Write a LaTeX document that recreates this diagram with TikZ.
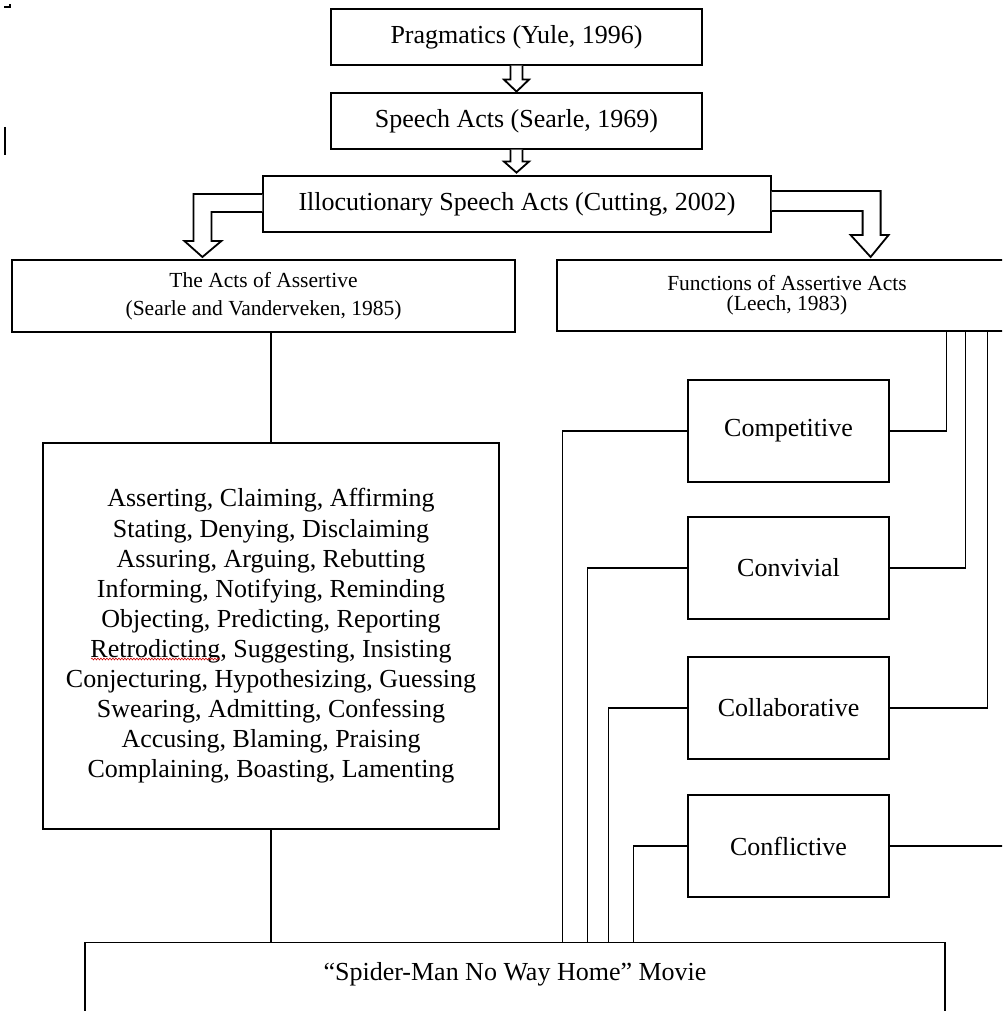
\documentclass[tikz,border=0pt]{standalone}
\usepackage{fontspec}
\setmainfont{Liberation Serif}
\usetikzlibrary{calc,decorations.pathmorphing}
\begin{document}
\begin{tikzpicture}[x=1pt,y=-1pt,
  box/.style={draw=black, line width=1.2pt, rectangle, inner sep=0pt, align=center,
              font=\fontsize{26}{30.1}\selectfont},
  smallbox/.style={box, font=\fontsize{21.5}{28}\selectfont},
  conn/.style={draw=black, line width=1.5pt},
  hollow/.style={draw=black, line width=1.8pt, fill=white, line join=miter}
]
\useasboundingbox (0,0) rectangle (1002,1011);
\clip (0,0) rectangle (1002,1011);
\fill[white] (0,0) rectangle (1002,1011);

% top boxes
\node[box, minimum width=371pt, minimum height=56pt] (prag) at (516.5,37) {Pragmatics (Yule, 1996)};
\node[box, minimum width=371pt, minimum height=56pt] (speech) at (516.5,121) {Speech Acts (Searle, 1969)};
\node[box, minimum width=508pt, minimum height=56pt] (ill) at (517,204) {Illocutionary Speech Acts (Cutting, 2002)};

% second level
\node[smallbox, minimum width=503pt, minimum height=72pt] (acts) at (263.5,296) {The Acts of Assertive\\(Searle and Vanderveken, 1985)};
\node[box, minimum width=460pt, minimum height=71pt, font=\fontsize{21.5}{20}\selectfont] (func) at (787,295.5) {Functions of Assertive Acts\\(Leech, 1983)};

% list box
\node[box, minimum width=456pt, minimum height=386pt] (list) at (271,636) {Asserting, Claiming, Affirming\\Stating, Denying, Disclaiming\\Assuring, Arguing, Rebutting\\Informing, Notifying, Reminding\\Objecting, Predicting, Reporting\\Retrodicting, Suggesting, Insisting\\Conjecturing, Hypothesizing, Guessing\\Swearing, Admitting, Confessing\\Accusing, Blaming, Praising\\Complaining, Boasting, Lamenting};

% function boxes
\node[box, minimum width=201pt, minimum height=102pt] (comp) at (788.5,431) {Competitive};
\node[box, minimum width=201pt, minimum height=102pt] (conv) at (788.5,568) {Convivial};
\node[box, minimum width=201pt, minimum height=102pt] (coll) at (788.5,708) {Collaborative};
\node[box, minimum width=201pt, minimum height=102pt] (conf) at (788.5,846) {Conflictive};

% movie box (extends below the picture)
\node[box, minimum width=860pt, minimum height=130pt, anchor=north] (movie) at (515,942) {};
\node[font=\fontsize{26}{30}\selectfont, inner sep=0pt] (movietext) at (515,974) {“Spider-Man No Way Home” Movie};

% hollow straight arrows
\draw[hollow, shift={(prag.south)}] (-6,0) -- (-6,14) -- (-12.5,14) -- (0,26) -- (12.5,14) -- (6,14) -- (6,0);
\draw[hollow, shift={(speech.south)}] (-6,0) -- (-6,12) -- (-12.5,12) -- (0,23) -- (12.5,12) -- (6,12) -- (6,0);

% hollow elbow arrows
\draw[hollow, shift={(ill.west)}] (0,-10) -- (-69,-10) -- (-69,37) -- (-78,37) -- (-60,53) -- (-41,37) -- (-51,37) -- (-51,8) -- (0,8);
\draw[hollow, shift={(ill.east)}] (0,-13) -- (109,-13) -- (109,31) -- (117,31) -- (99,53) -- (79,31) -- (91,31) -- (91,7) -- (0,7);

% left branch
\draw[conn] (acts.south -| list.north) -- (list.north);
\draw[conn] (list.south) -- (list.south |- movie.north);

% right connectors from Functions box
\coordinate (r1) at ($(comp.east)+(57,0)$);
\coordinate (r2) at ($(conv.east)+(76,0)$);
\coordinate (r3) at ($(coll.east)+(98,0)$);
\coordinate (r4) at ($(conf.east)+(130,0)$);
\draw[conn] (r1 |- func.south) |- (comp.east);
\draw[conn] (r2 |- func.south) |- (conv.east);
\draw[conn] (r3 |- func.south) |- (coll.east);
\draw[conn] (conf.east) -- (r4);

% left connectors to the movie box
\coordinate (l1) at ($(comp.west)+(-125,0)$);
\coordinate (l2) at ($(conv.west)+(-100,0)$);
\coordinate (l3) at ($(coll.west)+(-79,0)$);
\coordinate (l4) at ($(conf.west)+(-54,0)$);
\draw[conn] (comp.west) -| (l1 |- movie.north);
\draw[conn] (conv.west) -| (l2 |- movie.north);
\draw[conn] (coll.west) -| (l3 |- movie.north);
\draw[conn] (conf.west) -| (l4 |- movie.north);

% spell-check squiggle under "Retrodicting"
\draw[red!80!black, line width=0.6pt, decorate, decoration={snake, amplitude=0.9pt, segment length=3pt}] (91,659) -- (220,659);

% stray marks at the left edge
\draw[line width=1.3pt] (4,7) -- (10,7) -- (10,4);
\draw[line width=1.5pt] (5,127) -- (5,155);
\end{tikzpicture}
\end{document}
